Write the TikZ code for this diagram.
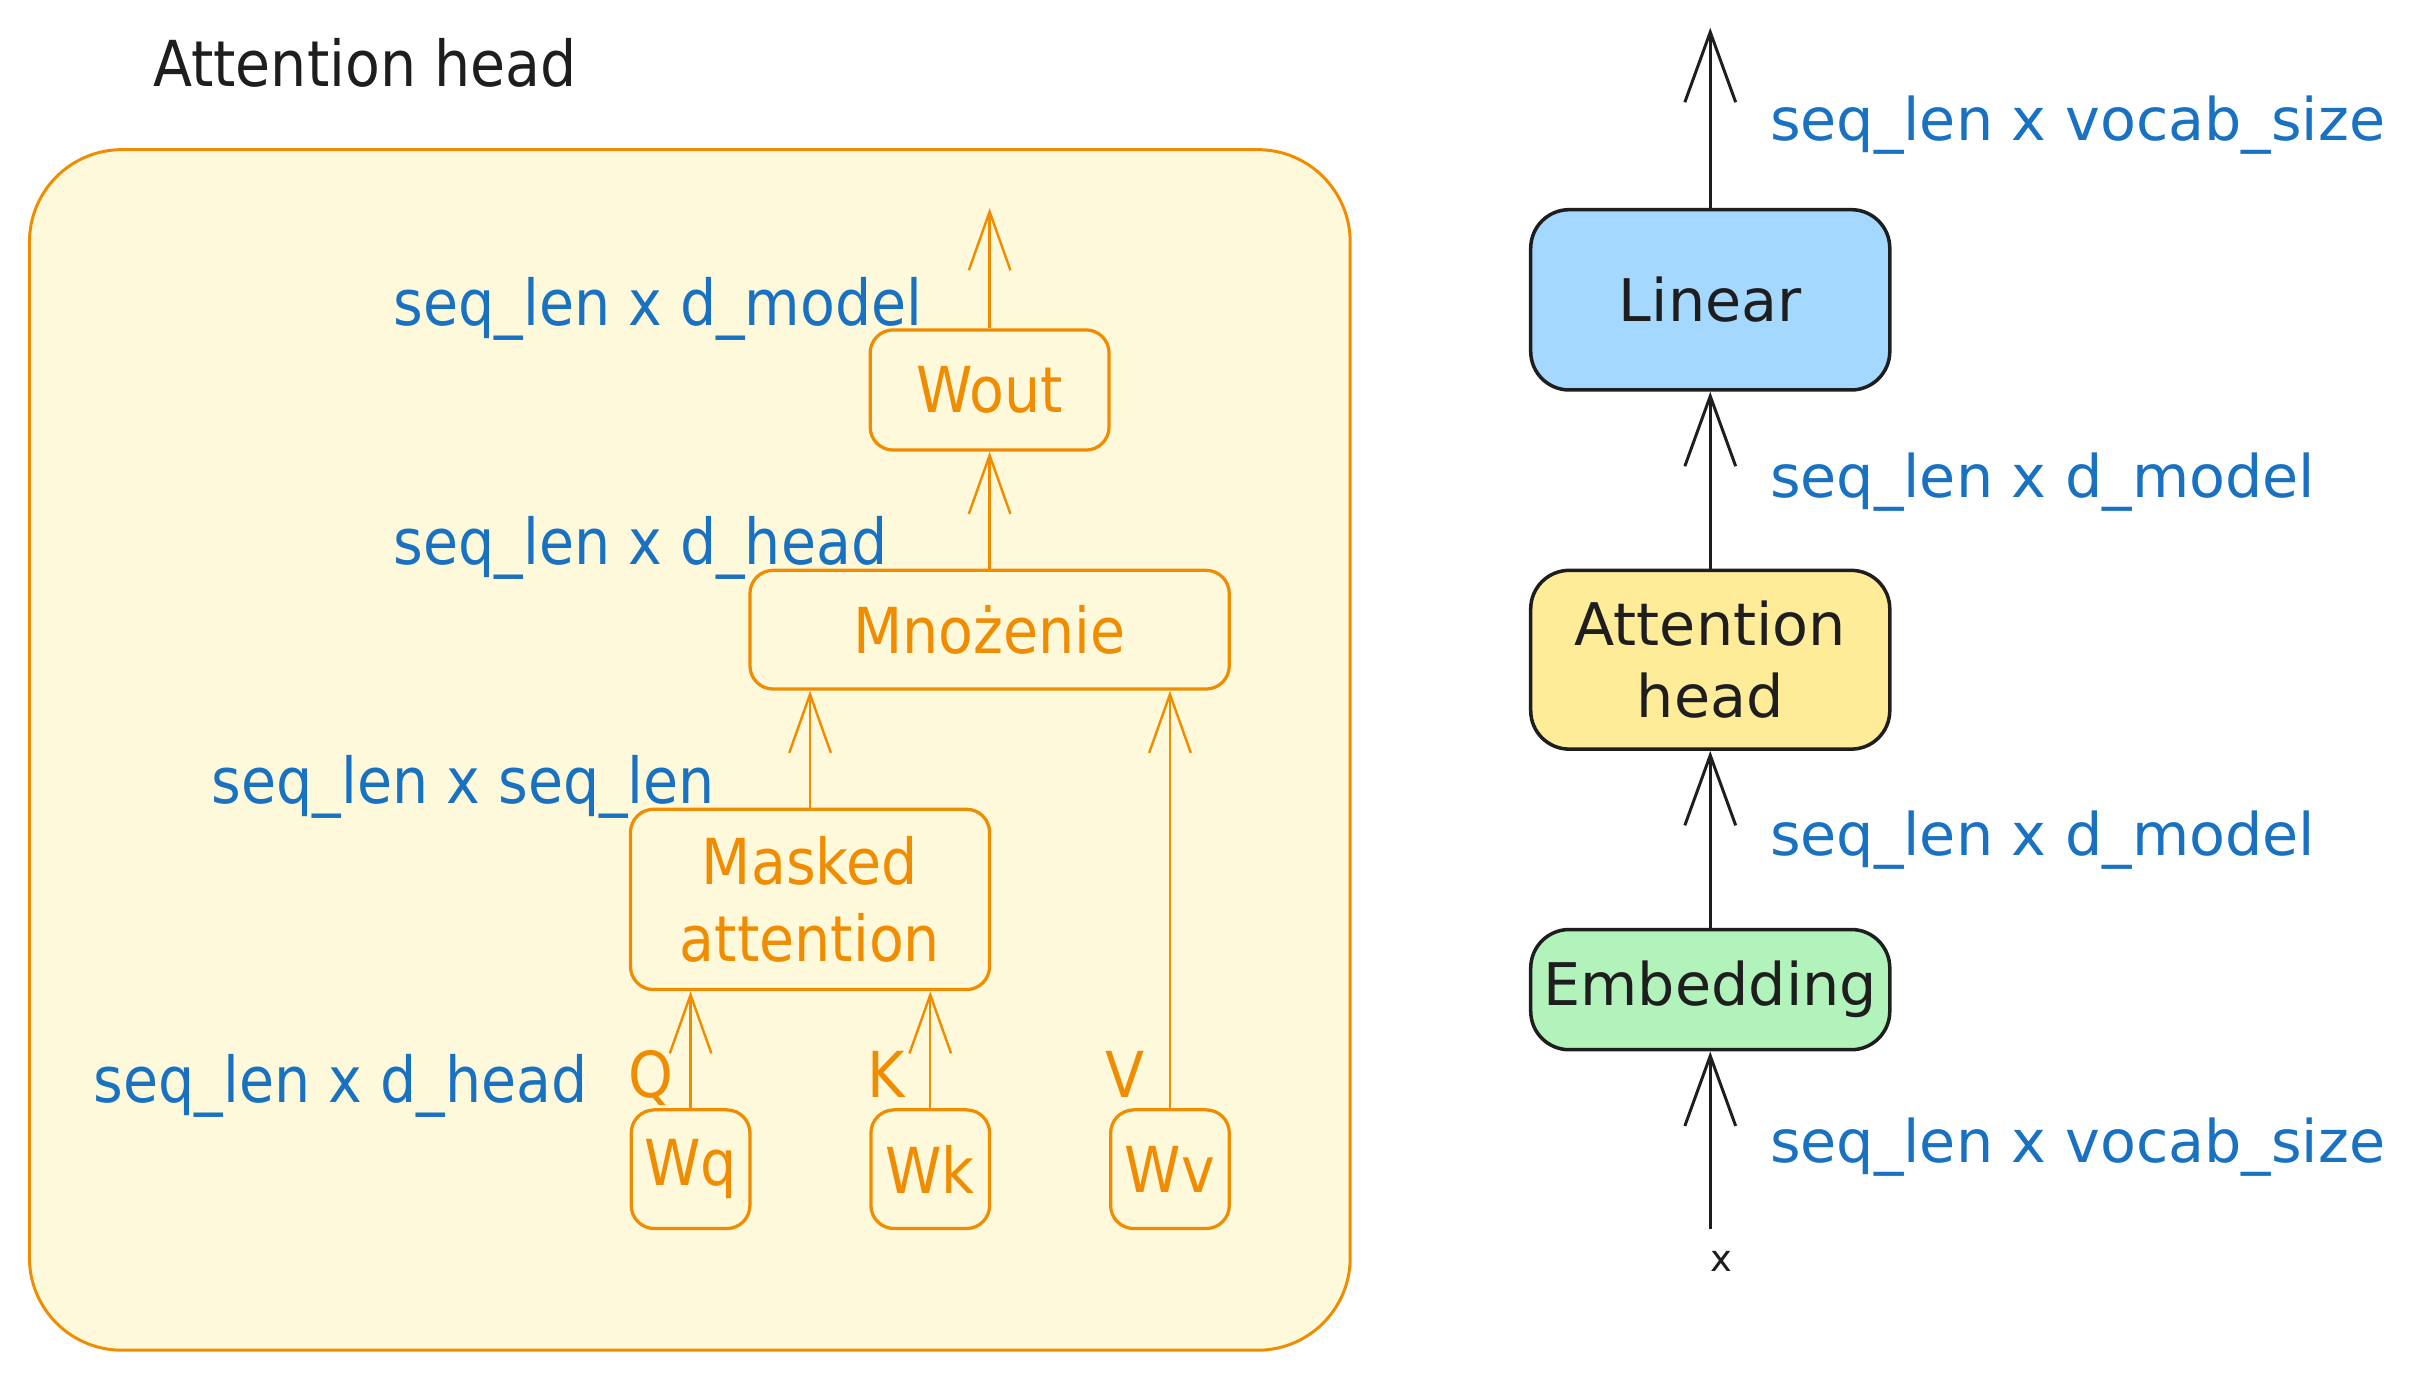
\documentclass[tikz,border=0pt]{standalone}
\usepackage{fontspec}
\usetikzlibrary{arrows.meta}
\setmainfont{DejaVu Sans}
\newfontfamily\handnarrow[FakeStretch=0.9]{DejaVu Sans}
\definecolor{headorange}{HTML}{F08C00}
\definecolor{headfill}{HTML}{FFF9DB}
\definecolor{dimblue}{HTML}{1971C2}
\definecolor{inkblack}{HTML}{1E1E1E}
\definecolor{linearblue}{HTML}{A5D8FF}
\definecolor{attnyellow}{HTML}{FFEC99}
\definecolor{embgreen}{HTML}{B2F2BB}

\begin{document}
\begin{tikzpicture}[x=0.02cm, y=-0.02cm,
        leftfont/.style={font=\handnarrow\fontsize{23.4}{28.3}\selectfont},
        rightfont/.style={font=\fontsize{21.7}{26.6}\selectfont},
        opbox/.style={draw=headorange, line width=1.2pt, rounded corners=0.3cm, inner sep=0pt, align=center, text=headorange, leftfont},
        layer/.style={draw=inkblack, line width=1.3pt, rounded corners=0.5cm, inner sep=0pt, align=center, text=inkblack, minimum width=4.66cm, rightfont},
        dimleft/.style={text=dimblue, inner sep=0pt, anchor=base west, leftfont},
        dimright/.style={text=dimblue, inner sep=0pt, anchor=base west, rightfont},
        flowin/.style={draw=headorange, line width=0.9pt, -{Straight Barb[length=0.76cm, width=0.54cm]}},
        flowout/.style={draw=inkblack, line width=1.1pt, -{Straight Barb[length=0.91cm, width=0.66cm]}}]
        \useasboundingbox (0,0) rectangle (1568,895.3);

        \node[draw=headorange, fill=headfill, line width=1.1pt, rounded corners=1.2cm, minimum width=17.14cm, minimum height=15.58cm] (headbox) at (447.5,486.5) {};
        \node[leftfont, text=inkblack, inner sep=0pt, anchor=base west] (title) at (99,56) {Attention head};

        \node[opbox, minimum width=3.1cm, minimum height=1.56cm] (wout) at (642,253) {Wout};
        \node[opbox, minimum width=6.22cm, minimum height=1.54cm] (mult) at (642,408.5) {Mnożenie};
        \node[opbox, minimum width=4.66cm, minimum height=2.34cm] (masked) at (525.5,583.5) {Masked\\attention};
        \node[opbox, minimum width=1.54cm, minimum height=1.54cm] (wq) at (448,758.5) {Wq};
        \node[opbox, minimum width=1.54cm, minimum height=1.54cm] (wk) at (603.5,758.5) {Wk};
        \node[opbox, minimum width=1.54cm, minimum height=1.54cm] (wv) at (759,758.5) {Wv};
        \coordinate (headout) at (642,135);

        \draw[flowin] (wout.north) -- (headout);
        \draw[flowin] (mult.north) -- (wout.south);
        \draw[flowin] (masked.north) -- (masked.north |- mult.south);
        \draw[flowin] (wv.north) -- (wv.north |- mult.south);
        \draw[flowin] (wq.north) -- (wq.north |- masked.south);
        \draw[flowin] (wk.north) -- (wk.north |- masked.south);

        \node[dimleft] (dimwout) at (255,211) {seq\_len x d\_model};
        \node[dimleft] (dimmult) at (255,366) {seq\_len x d\_head};
        \node[dimleft] (dimmask) at (137,521) {seq\_len x seq\_len};
        \node[dimleft] (dimqkv) at (60.5,715) {seq\_len x d\_head};
        \node[leftfont, text=headorange, inner sep=0pt, anchor=base] (qlab) at (422,712) {Q};
        \node[leftfont, text=headorange, inner sep=0pt, anchor=base] (klab) at (575,712) {K};
        \node[leftfont, text=headorange, inner sep=0pt, anchor=base] (vlab) at (730,712) {V};

        \node[layer, fill=linearblue, minimum height=2.34cm] (linear) at (1109.5,194.5) {Linear};
        \node[layer, fill=attnyellow, minimum height=2.32cm] (attn) at (1109.5,428) {Attention\\head};
        \node[layer, fill=embgreen, minimum height=1.56cm] (embed) at (1109.5,642) {Embedding};
        \node[text=inkblack, inner sep=0pt, anchor=base, font=\fontsize{13.6}{16}\selectfont] (xin) at (1117,825) {x};
        \coordinate (logits) at (1109.5,18);
        \coordinate (xstart) at (1109.5,797);

        \draw[flowout] (linear.north) -- (logits);
        \draw[flowout] (attn.north) -- (linear.south);
        \draw[flowout] (embed.north) -- (attn.south);
        \draw[flowout] (xstart) -- (embed.south);

        \node[dimright] (dimlogits) at (1148,91) {seq\_len x vocab\_size};
        \node[dimright] (dimattn) at (1148,323) {seq\_len x d\_model};
        \node[dimright] (dimembed) at (1148,555) {seq\_len x d\_model};
        \node[dimright] (diminput) at (1148,754) {seq\_len x vocab\_size};
    \end{tikzpicture}
\end{document}
